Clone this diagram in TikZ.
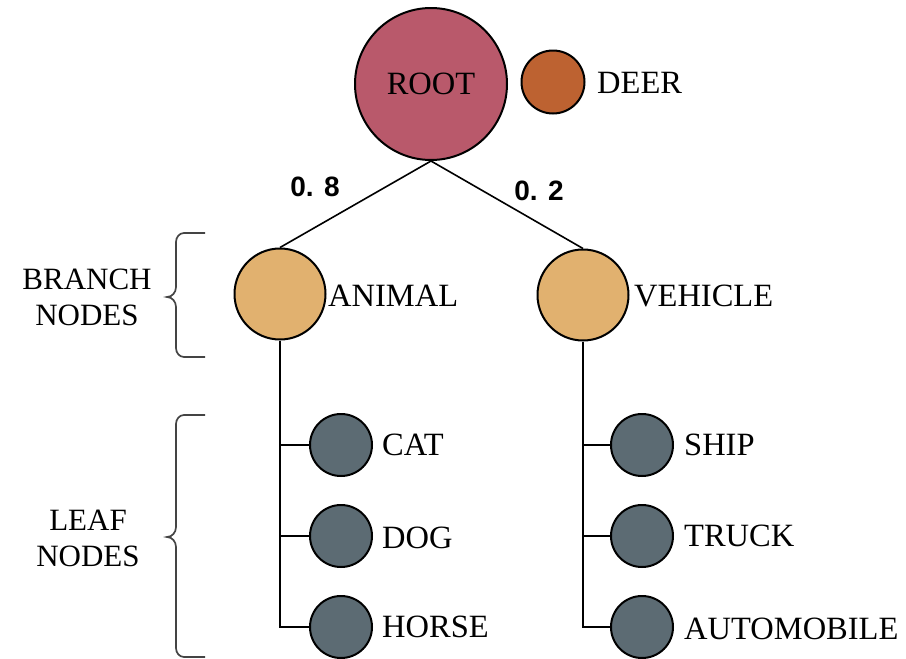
\documentclass[tikz,border=0pt]{standalone}
\usepackage{fontspec}
\setmainfont{Liberation Serif}
\newfontfamily\weightfont{Liberation Sans}

\definecolor{rootfill}{HTML}{B9596B}
\definecolor{deerfill}{HTML}{BD6231}
\definecolor{branchfill}{HTML}{E1B16F}
\definecolor{leaffill}{HTML}{5C6B73}
\definecolor{bracecol}{HTML}{444444}

\tikzset{
  dot/.style={circle, draw=black, line width=2pt, inner sep=0pt},
  rootdot/.style={dot, fill=rootfill, minimum size=152pt},
  deerdot/.style={dot, fill=deerfill, minimum size=63pt},
  branchdot/.style={dot, fill=branchfill, minimum size=91pt},
  leafdot/.style={dot, fill=leaffill, minimum size=62pt},
  lbl/.style={inner sep=0pt, anchor=west, font=\fontsize{32.5}{36}\selectfont},
  side/.style={inner sep=0pt, align=center, font=\fontsize{31}{36}\selectfont},
  weight/.style={inner sep=0pt, font=\weightfont\bfseries\fontsize{28}{32}\selectfont},
  edge/.style={draw=black, line width=1.6pt},
  bracket/.style={draw=bracecol, line width=1.7pt}
}

\begin{document}
\begin{tikzpicture}[x=1pt, y=-1pt]
  \useasboundingbox (0,0) rectangle (906,659);

  % root and the separate class
  \node[rootdot] (root) at (431,84) {\fontsize{32.5}{36}\selectfont ROOT};
  \node[deerdot] (deer) at (553,82) {};
  \node[lbl] (deertxt) at (597,83) {DEER};

  % branch level
  \node[branchdot] (animal) at (280,294) {};
  \node[lbl] (animaltxt) at (328,296) {ANIMAL};
  \node[branchdot] (vehicle) at (583,295) {};
  \node[lbl] (vehicletxt) at (634,296) {VEHICLE};

  % leaves
  \node[leafdot] (cat)   at (341,445) {};
  \node[leafdot] (dog)   at (341,536) {};
  \node[leafdot] (horse) at (341,627) {};
  \node[lbl] (cattxt)   at (382,445) {CAT};
  \node[lbl] (dogtxt)   at (382,538) {DOG};
  \node[lbl] (horsetxt) at (382,627) {HORSE};

  \node[leafdot] (ship)  at (642,445) {};
  \node[leafdot] (truck) at (642,536) {};
  \node[leafdot] (auto)  at (642,627) {};
  \node[lbl] (shiptxt)  at (684,445) {SHIP};
  \node[lbl] (trucktxt) at (684,536) {TRUCK};
  \node[lbl] (autotxt)  at (684,629) {AUTOMOBILE};

  % root to branches
  \path[edge] (root.south) -- (animal.north);
  \path[edge] (root.south) -- (vehicle.north);
  \node[weight] (w1) at (315,187) {0. 8};
  \node[weight] (w2) at (539,191) {0. 2};

  % branch to leaves
  \path[edge] (animal.south) |- (horse.west);
  \path[edge] (animal.south |- cat.west) -- (cat.west);
  \path[edge] (animal.south |- dog.west) -- (dog.west);
  \path[edge] (vehicle.south) |- (auto.west);
  \path[edge] (vehicle.south |- ship.west) -- (ship.west);
  \path[edge] (vehicle.south |- truck.west) -- (truck.west);

  % side braces and their captions
  \coordinate (b1top) at (205,233);
  \coordinate (b1bot) at (205,357);
  \path[bracket] (b1top) -- (184,233) to[out=180,in=90] (176,242) -- (176,287)
    to[out=-90,in=0] (167,297) to[out=0,in=90] (176,307) -- (176,348)
    to[out=-90,in=180] (184,357) -- (b1bot);
  \node[side] (branchcap) at (87,297) {BRANCH\\NODES};

  \coordinate (b2top) at (205,415);
  \coordinate (b2bot) at (205,657);
  \path[bracket] (b2top) -- (184,415) to[out=180,in=90] (176,424) -- (176,527)
    to[out=-90,in=0] (167,537) to[out=0,in=90] (176,547) -- (176,648)
    to[out=-90,in=180] (184,657) -- (b2bot);
  \node[side] (leafcap) at (88,538) {LEAF\\NODES};
\end{tikzpicture}
\end{document}
